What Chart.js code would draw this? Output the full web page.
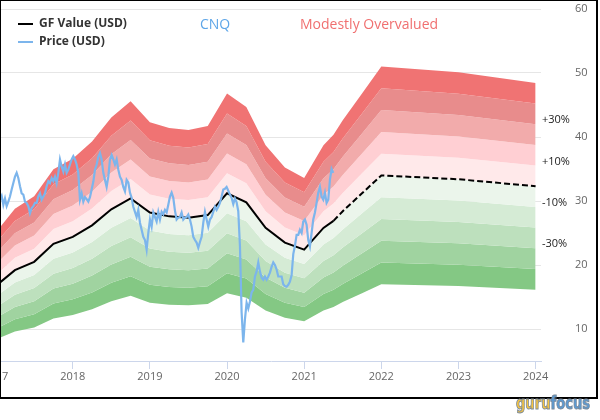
<!DOCTYPE html>
<html>
<head>
<meta charset="utf-8">
<script src="https://cdn.jsdelivr.net/npm/chart.js@4.4.1/dist/chart.umd.min.js"></script>
<style>
  html, body { margin: 0; padding: 0; background: #fff; }
  #wrap { width: 600px; height: 420px; position: relative; }
</style>
</head>
<body>
<div id="wrap"><canvas id="gfChart" width="600" height="420"></canvas></div>
<script>
/*===================================================================
   DATA
==================================================================*/
const xTicks = [2017, 2018, 2019, 2020, 2021, 2022, 2023, 2024]
const yTicks = [10, 20, 30, 40, 50, 60]

// GF Value (USD), quarterly nodes then yearly projection
const gfYears = [2017.0, 2017.25, 2017.5, 2017.75, 2018.0, 2018.25, 2018.5, 2018.75,
  2019.0, 2019.25, 2019.5, 2019.75, 2020.0, 2020.25, 2020.5, 2020.75,
  2021.0, 2021.25, 2021.38, 2021.5, 2021.75, 2022.0, 2023.0, 2024.0]
const gfValues = [16.7, 19.2, 20.5, 23.3, 24.4, 26.2, 28.7, 30.4,
  28.2, 27.6, 27.4, 27.8, 31.2, 29.8, 25.8, 23.5,
  22.4, 25.8, 26.9, 28.4, 31.2, 34.0, 33.4, 32.3]
const gfLastActual = 2021.38

// band multipliers around GF Value and their colours (top to bottom)
const bandLevels = [1.5, 1.4, 1.3, 1.2, 1.1, 1.0, 0.9, 0.8, 0.7, 0.6, 0.5]
const bandColors = ['#f07373', '#e88c8c', '#f2abab', '#ffcfd3', '#ffe9ea',
  '#ebf5eb', '#d5ebd5', '#bde0bd', '#a0d3a0', '#84c884']
const bandLabelLevels = [1.3, 1.1, 0.9, 0.7]
const bandLabelTexts = ['+30%', '+10%', '-10%', '-30%']

// Price (USD), roughly weekly closes
const priceStart = 2017.057
const priceStep = 0.0216
const priceValues = [
  30.2, 30.8, 29.4, 30.4, 29.2, 29.9, 30.7, 31.8, 32.8, 33.8,
  34.4, 33.6, 32.3, 31.2, 31.0, 29.9, 29.7, 29.2, 28.1, 28.9,
  29.2, 29.7, 29.7, 30.7, 31.2, 30.2, 30.7, 31.2, 32.3, 33.1,
  32.8, 33.6, 33.1, 33.8, 32.8, 34.4, 36.5, 35.4, 34.6, 35.7,
  34.4, 34.9, 35.7, 36.5, 37.0, 36.5, 35.7, 34.4, 30.2, 31.2,
  29.9, 30.6, 30.3, 29.9, 30.6, 31.8, 33.0, 34.9, 35.7, 36.9,
  37.5, 36.5, 34.4, 33.3, 32.2, 33.8, 36.5, 37.2, 36.5, 35.7,
  36.5, 34.9, 33.8, 33.3, 32.2, 31.5, 33.3, 32.9, 31.3, 30.5,
  29.1, 28.3, 27.5, 28.6, 26.6, 25.5, 24.4, 23.9, 22.4, 25.0,
  27.1, 26.0, 28.2, 27.5, 26.8, 28.3, 27.1, 28.3, 27.9, 28.6,
  28.2, 29.4, 30.7, 31.3, 30.5, 28.5, 27.1, 27.4, 27.5, 28.2,
  27.1, 27.4, 27.5, 27.9, 27.1, 26.0, 24.4, 23.9, 23.5, 22.7,
  23.6, 24.4, 26.6, 28.3, 27.1, 26.0, 27.1, 27.5, 28.3, 29.1,
  28.6, 29.1, 29.7, 30.7, 31.8, 31.9, 32.2, 31.6, 31.0, 30.5,
  29.5, 30.4, 29.8, 28.4, 23.0, 12.6, 7.9, 11.5, 14.1, 13.2,
  14.3, 15.7, 16.1, 18.2, 19.0, 20.4, 19.0, 18.0, 17.7, 18.2,
  17.7, 18.2, 18.8, 19.7, 20.4, 20.0, 19.3, 18.2, 18.2, 18.2,
  17.0, 16.7, 16.6, 16.9, 17.4, 18.4, 21.7, 23.0, 24.7, 24.7,
  25.5, 25.0, 26.8, 27.1, 26.3, 23.9, 22.9, 25.0, 27.1, 28.2,
  29.7, 31.3, 32.2, 30.7, 30.2, 31.3, 29.7, 30.2, 33.3, 35.0,
  34.4
]

const FONT = '"Open Sans", "DejaVu Sans", sans-serif'

/*===================================================================
   BUILD DATASETS
==================================================================*/
const pricePoints = priceValues.map((v, i) => ({ x: priceStart + i * priceStep, y: v }))
const gfPoints = gfYears.map((yr, i) => ({ x: yr, y: gfValues[i] }))
const gfActual = gfPoints.filter(p => p.x <= gfLastActual)
const gfProjected = gfPoints.filter(p => p.x >= gfLastActual)

const datasets = [
  { data: pricePoints, borderColor: '#7cb5ec', borderWidth: 2.2, pointRadius: 0, tension: 0, fill: false },
  { data: gfActual, borderColor: '#000', borderWidth: 2, pointRadius: 0, tension: 0, fill: false },
  { data: gfProjected, borderColor: '#000', borderWidth: 2, borderDash: [6, 3], pointRadius: 0, tension: 0, fill: false }
]

bandLevels.forEach((lv, i) => {
  datasets.push({
    data: gfPoints.map(p => ({ x: p.x, y: p.y * lv })),
    borderWidth: 0,
    borderColor: 'rgba(0,0,0,0)',
    pointRadius: 0,
    tension: 0,
    fill: i === 0 ? false : '-1',
    backgroundColor: i === 0 ? 'rgba(0,0,0,0)' : bandColors[i - 1]
  })
})

/*===================================================================
   OVERLAY: legend, titles, band labels, frame, logo
==================================================================*/
const overlay = {
  id: 'overlay',
  afterDraw(chart) {
    const ctx = chart.ctx
    const yScale = chart.scales.y
    const area = chart.chartArea
    ctx.save()

    // band labels at the right end
    const lastGF = gfValues[gfValues.length - 1]
    ctx.font = '11px ' + FONT
    ctx.fillStyle = '#222'
    ctx.textAlign = 'left'
    ctx.textBaseline = 'middle'
    bandLabelLevels.forEach((lv, i) => {
      ctx.fillText(bandLabelTexts[i], area.right + 1, yScale.getPixelForValue(lastGF * lv) - 4)
    })

    // legend
    ctx.lineWidth = 2
    ctx.strokeStyle = '#000'
    ctx.beginPath(); ctx.moveTo(18, 24); ctx.lineTo(33, 24); ctx.stroke()
    ctx.strokeStyle = '#7cb5ec'
    ctx.beginPath(); ctx.moveTo(18, 42); ctx.lineTo(33, 42); ctx.stroke()
    ctx.font = 'bold 12px ' + FONT
    ctx.fillStyle = '#333'
    ctx.fillText('GF Value (USD)', 39, 24)
    ctx.fillText('Price (USD)', 39, 42)

    // ticker + verdict
    ctx.font = '14px ' + FONT
    ctx.fillStyle = '#5ea6e8'
    ctx.fillText('CNQ', 200, 25)
    ctx.fillStyle = '#f07070'
    ctx.fillText('Modestly Overvalued', 300, 25)

    // frame
    ctx.strokeStyle = '#000'
    ctx.lineWidth = 2
    ctx.strokeRect(0, 0, 597, 398)

    // logo, squeezed into its box
    ctx.font = 'bold 18px "DejaVu Sans", sans-serif'
    ctx.textBaseline = 'alphabetic'
    const wGuru = ctx.measureText('guru').width
    const wAll = ctx.measureText('gurufocus').width
    ctx.translate(516, 409)
    ctx.scale(74 / wAll, 1)
    ctx.lineWidth = 1
    ctx.strokeStyle = '#7a8a9a'
    ctx.fillStyle = '#f5c342'
    ctx.fillText('guru', 0, 0)
    ctx.strokeText('guru', 0, 0)
    ctx.fillStyle = '#5b9bd5'
    ctx.fillText('focus', wGuru, 0)
    ctx.strokeText('focus', wGuru, 0)

    ctx.restore()
  }
}

/*===================================================================
   CHART
==================================================================*/
const ctx = document.getElementById('gfChart').getContext('2d')
const gfChart = new Chart(ctx, {
  type: 'line',
  data: { datasets },
  options: {
    responsive: false,
    animation: false,
    layout: { padding: { left: 1, top: 9, right: 0, bottom: 0 } },
    plugins: { legend: { display: false }, tooltip: { enabled: false }, title: { display: false } },
    scales: {
      x: {
        type: 'linear',
        min: 2017.07,
        max: 2024.07,
        afterBuildTicks: s => { s.ticks = xTicks.map(v => ({ value: v })) },
        afterFit: s => { s.height = 59; s.paddingLeft = 0; s.paddingRight = 0 },
        ticks: {
          autoSkip: false, maxRotation: 0, padding: 1, color: '#666',
          font: { family: FONT, size: 11 },
          callback: v => String(v)
        },
        grid: { drawOnChartArea: false, drawTicks: true, tickLength: 8, color: '#ccd6eb' },
        border: { display: true, color: '#ccd6eb', width: 1 }
      },
      y: {
        position: 'right',
        min: 5,
        max: 60,
        afterBuildTicks: s => { s.ticks = yTicks.map(v => ({ value: v })) },
        afterFit: s => { s.width = 59; s.paddingTop = 0; s.paddingBottom = 0 },
        ticks: { padding: 34, color: '#666', font: { family: FONT, size: 11 } },
        grid: { color: '#e6e6e6', drawTicks: false },
        border: { display: false }
      }
    }
  },
  plugins: [overlay]
})
</script>
</body>
</html>
